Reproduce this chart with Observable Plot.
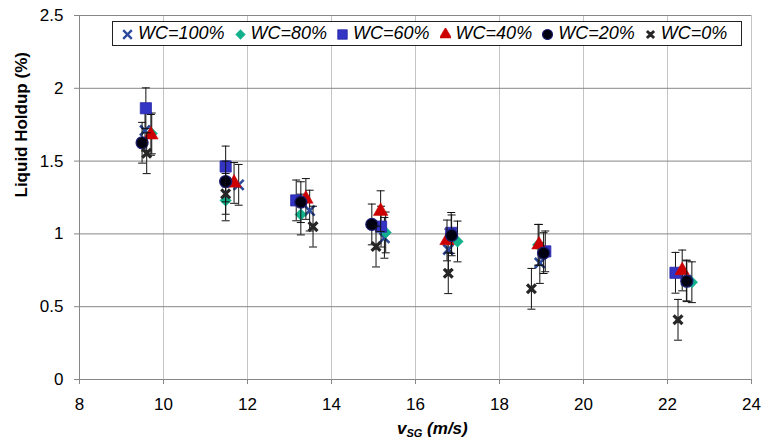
<!DOCTYPE html>
<html>
<head>
<meta charset="utf-8">
<script src="https://cdn.jsdelivr.net/npm/d3@7"></script>
<script src="https://cdn.jsdelivr.net/npm/@observablehq/plot@0.6"></script>
<style>
  body { margin: 0; background: #fff; font-family: "Liberation Sans", Arial, sans-serif; }
  #wrap { position: relative; width: 761px; height: 445px; }
  #legend {
    position: absolute; left: 112px; top: 21px; width: 619px; height: 23px;
    border: 1px solid #222; background: #fff;
    display: flex; align-items: center; gap: 10px; padding-left: 9px; box-sizing: content-box;
    font-style: italic; font-size: 18px; color: #000; white-space: nowrap;
  }
  #legend .item { display: flex; align-items: center; gap: 5px; }
  #legend svg { display: block; }
  #xlabel {
    position: absolute; left: 397px; top: 419px;
    font-weight: bold; font-style: italic; font-size: 17px; white-space: nowrap;
  }
  #xlabel sub { font-size: 11px; vertical-align: -3px; }
</style>
</head>
<body>
<div id="wrap">
  <div id="chart"></div>
  <div id="legend"></div>
  <div id="xlabel"><i>v</i><sub>SG</sub> (m/s)</div>
</div>
<script>
// Water cut series, gas superficial velocity (m/s) and liquid holdup (%)
const seriesNames = ["WC=100%", "WC=80%", "WC=60%", "WC=40%", "WC=20%", "WC=0%"];

const vsgWC100 = [9.56, 11.79, 13.48, 15.26, 16.78, 18.96, 22.45];
const holdupWC100 = [1.71, 1.337, 1.16, 0.973, 0.893, 0.80, 0.68];

const vsgWC80 = [9.72, 11.48, 13.27, 15.29, 17.00, 18.92, 22.58];
const holdupWC80 = [1.69, 1.23, 1.133, 1.01, 0.948, 0.925, 0.668];

const vsgWC60 = [9.58, 11.48, 13.16, 15.18, 16.85, 19.09, 22.19];
const holdupWC60 = [1.863, 1.463, 1.23, 1.05, 1.007, 0.88, 0.733];

const vsgWC40 = [9.70, 11.68, 13.39, 15.17, 16.75, 18.94, 22.35];
const holdupWC40 = [1.68, 1.35, 1.24, 1.156, 0.955, 0.925, 0.749];

const vsgWC20 = [9.49, 11.48, 13.27, 14.96, 16.86, 19.05, 22.46];
const holdupWC20 = [1.626, 1.36, 1.218, 1.065, 0.99, 0.868, 0.675];

const vsgWC0 = [9.60, 11.48, 13.56, 15.06, 16.78, 18.76, 22.25];
const holdupWC0 = [1.554, 1.275, 1.05, 0.913, 0.73, 0.623, 0.41];

// Half-width of the error bars (holdup %)
const holdupError = 0.14;

const xTicks = [8, 10, 12, 14, 16, 18, 20, 22, 24];
const yTicks = [0, 0.5, 1, 1.5, 2, 2.5];

// Heavy cross used for the WC=0% series
const heavyCross = {
  draw(ctx, size) {
    const r = Math.sqrt(size / Math.PI);
    ctx.moveTo(-r, -r); ctx.lineTo(r, r);
    ctx.moveTo(-r, r); ctx.lineTo(r, -r);
    ctx.moveTo(0, -r * 0.7); ctx.lineTo(0, r * 0.7);
  }
};
// Short horizontal cap at the ends of each error bar
const errorCap = {
  draw(ctx) { ctx.moveTo(-4, 0); ctx.lineTo(4, 0); }
};

const styles = [
  {symbol: "times", fill: "none", stroke: "#2b4a9b", strokeWidth: 2.6, r: 4.6, lr: 4},
  {symbol: "diamond2", fill: "#13b08c", stroke: "#13b08c", strokeWidth: 0.5, r: 5.2, lr: 4.4},
  {symbol: "square", fill: "#3333c4", stroke: "#2a2aa8", strokeWidth: 0.8, r: 6.3, lr: 5.4},
  {symbol: "triangle", fill: "#cc0000", stroke: "#cc0000", strokeWidth: 0.5, r: 5.4, lr: 4.6},
  {symbol: "circle", fill: "#000010", stroke: "#1c1c70", strokeWidth: 1.2, r: 6, lr: 5},
  {symbol: heavyCross, fill: "none", stroke: "#262626", strokeWidth: 3.2, r: 4.4, lr: 3.6}
];

const xs = [vsgWC100, vsgWC80, vsgWC60, vsgWC40, vsgWC20, vsgWC0];
const ys = [holdupWC100, holdupWC80, holdupWC60, holdupWC40, holdupWC20, holdupWC0];

const seriesRows = seriesNames.map((name, i) =>
  xs[i].map((x, j) => ({series: name, x, y: ys[i][j]}))
);

const seriesMarks = seriesRows.flatMap((rows, i) => {
  const s = styles[i];
  return [
    Plot.ruleX(rows, {x: "x", y1: d => d.y - holdupError, y2: d => d.y + holdupError, stroke: "#111", strokeWidth: 1}),
    Plot.dot(rows, {x: "x", y: d => d.y + holdupError, symbol: errorCap, fill: "none", stroke: "#111", strokeWidth: 1, r: 4}),
    Plot.dot(rows, {x: "x", y: d => d.y - holdupError, symbol: errorCap, fill: "none", stroke: "#111", strokeWidth: 1, r: 4}),
    Plot.dot(rows, {x: "x", y: "y", symbol: s.symbol, fill: s.fill, stroke: s.stroke, strokeWidth: s.strokeWidth, r: s.r})
  ];
});

const chart = Plot.plot({
  width: 761,
  height: 445,
  marginLeft: 79,
  marginRight: 10,
  marginTop: 15,
  marginBottom: 66,
  style: {fontFamily: "'Liberation Sans', Arial, sans-serif", fontSize: "17px", background: "#fff"},
  x: {domain: [8, 24]},
  y: {domain: [0, 2.5]},
  marks: [
    Plot.ruleX(xTicks.slice(1), {stroke: "#c4c4c4", strokeWidth: 1}),
    Plot.ruleY(yTicks.slice(1), {stroke: "#878787", strokeWidth: 1}),
    Plot.ruleX([8], {stroke: "#878787"}),
    Plot.ruleY([0], {stroke: "#878787"}),
    Plot.axisX({ticks: xTicks, tickSize: 5, tickPadding: 13, stroke: "#878787", fill: "#000", label: null, fontSize: 17}),
    Plot.axisY({ticks: yTicks, tickSize: 5, tickPadding: 11, stroke: "#878787", fill: "#000", label: null, fontSize: 17, tickFormat: d => String(d)}),
    Plot.text(["Liquid Holdup (%)"], {frameAnchor: "left", rotate: -90, dx: -58, fontWeight: "bold", fontSize: 17, fill: "#000"}),
    ...seriesMarks
  ]
});
document.getElementById("chart").appendChild(chart);

// Legend with the same marker shapes and colours
const symbolTypes = {times: d3.symbolTimes, diamond2: d3.symbolDiamond2, square: d3.symbolSquare, triangle: d3.symbolTriangle, circle: d3.symbolCircle};
const legend = d3.select("#legend");
seriesNames.forEach((name, i) => {
  const s = styles[i];
  const item = legend.append("div").attr("class", "item");
  const svg = item.append("svg").attr("width", 11).attr("height", 12);
  const type = typeof s.symbol === "string" ? symbolTypes[s.symbol] : s.symbol;
  const path = d3.symbol(type, Math.PI * s.lr * s.lr)();
  svg.append("path").attr("d", path).attr("transform", "translate(5.5,6.5)")
    .attr("fill", s.fill).attr("stroke", s.stroke).attr("stroke-width", s.strokeWidth * 0.9);
  item.append("span").text(name);
});
</script>
</body>
</html>
